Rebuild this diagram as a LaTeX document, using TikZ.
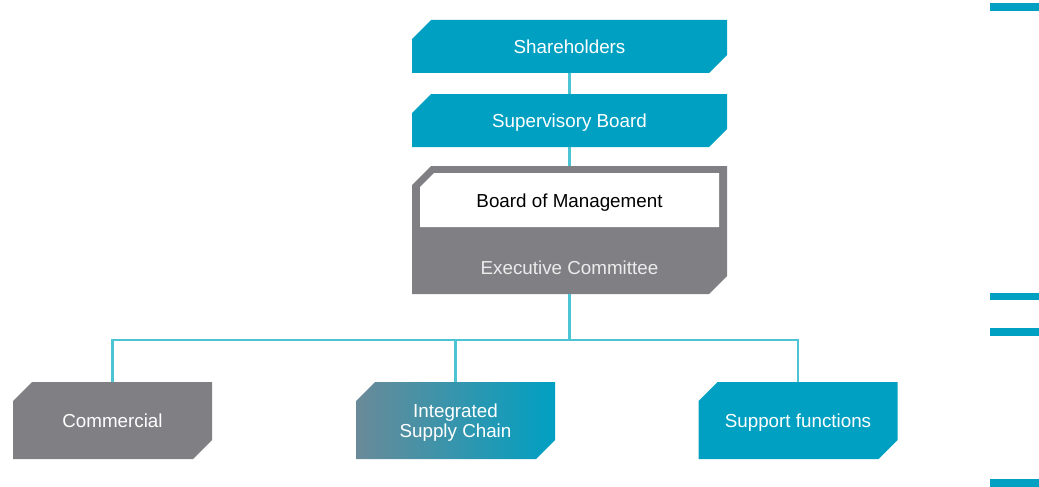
\documentclass[tikz,border=0pt]{standalone}
\usepackage{fontspec}
\setmainfont{Liberation Sans}
\usetikzlibrary{calc}
\definecolor{teal}{HTML}{00A0C2}
\definecolor{slate}{HTML}{807F84}
\definecolor{conncol}{HTML}{4DC4D4}
\definecolor{gradleft}{HTML}{6A8A98}
\definecolor{eclabel}{HTML}{ECECEC}
\tikzset{
  x=1pt, y=-1pt,
  every node/.style={font=\fontsize{18.8}{20.5}\selectfont, align=center, inner sep=0pt, text height=14pt, text depth=0pt},
  chamf/.style n args={3}{path picture={
    \fill[#1] ($(path picture bounding box.north west)+(0,-#2)$) -- ++(#2,#2)
      -- (path picture bounding box.north east)
      -- ($(path picture bounding box.south east)+(0,#3)$) -- ++(-#3,-#3)
      -- (path picture bounding box.south west) -- cycle;}},
  chamfgrad/.style n args={2}{path picture={
    \shade[left color=gradleft, right color=teal] ($(path picture bounding box.north west)+(0,-#1)$) -- ++(#1,#1)
      -- (path picture bounding box.north east)
      -- ($(path picture bounding box.south east)+(0,#2)$) -- ++(-#2,-#2)
      -- (path picture bounding box.south west) -- cycle;}},
  topbox/.style={minimum width=315pt, minimum height=53pt, text=white, chamf={teal}{19pt}{18pt}},
  lowbox/.style={minimum width=199pt, minimum height=77pt, text=white},
  conn/.style={draw=conncol, line width=2.5pt},
  sidebar/.style={fill=teal},
}
\begin{document}
\begin{tikzpicture}
\useasboundingbox (0,0) rectangle (1039,487);
% side bars
\fill[sidebar] (990,3) rectangle (1039,11);
\fill[sidebar] (990,293) rectangle (1039,300);
\fill[sidebar] (990,328) rectangle (1039,336);
\fill[sidebar] (990,479) rectangle (1039,487);
\coordinate (j) at (569.5,340);
\node[topbox] (sh) at (569.5,46.5) {Shareholders};
\node[topbox] (sb) at (569.5,120.5) {Supervisory Board};
\node[minimum width=315pt, minimum height=128pt, chamf={slate}{19pt}{18pt}] (ex) at (569.5,230) {};
\node[minimum width=299pt, minimum height=54pt, text=black, chamf={white}{14pt}{0.01pt}] (bom) at (569.5,200) {Board of Management};
\node[text=eclabel] (ec) at (569.5,267) {Executive Committee};
\node[lowbox, chamf={slate}{19pt}{19pt}] (com) at (112.5,420.5) {Commercial};
\node[lowbox, chamfgrad={19pt}{19pt}, text height=34.5pt, text depth=0pt] (isc) at (455.5,420.5) {Integrated\\Supply Chain};
\node[lowbox, chamf={teal}{19pt}{19pt}] (sup) at (798,420.5) {Support functions};
\draw[conn] (sh.south) -- (sb.north);
\draw[conn] (sb.south) -- (ex.north);
\draw[conn] (ex.south) -- (j);
\draw[conn] (com.north) |- (j) -| (sup.north);
\draw[conn] (isc.north) -- (isc.north |- j);
\end{tikzpicture}
\end{document}
